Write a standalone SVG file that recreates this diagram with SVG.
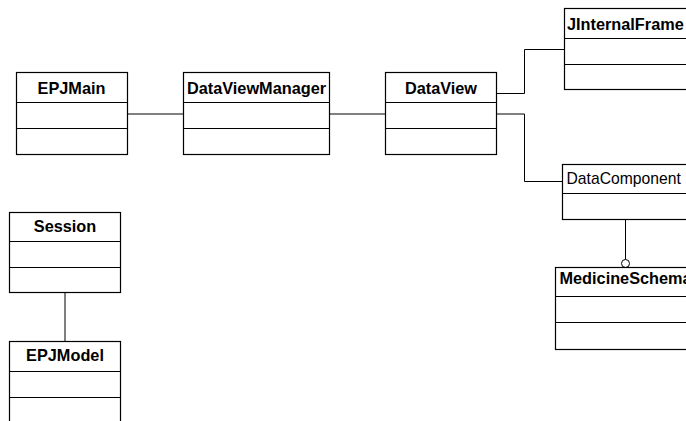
<svg xmlns="http://www.w3.org/2000/svg" width="686" height="421" viewBox="0 0 686 421">
  <style>
    .box { fill: #fff; stroke: #000; stroke-width: 1.2; }
    .div { stroke: #000; stroke-width: 1.2; }
    .conn { fill: none; stroke: #000; stroke-width: 1; }
    .title { font-family: "Liberation Sans", Arial, sans-serif; font-size: 16.3px; font-weight: bold; fill: #000; }
    .plain { font-family: "Liberation Sans", Arial, sans-serif; font-size: 15.7px; fill: #000; }
  </style>
  <rect width="686" height="421" fill="#fff"/>

  <g id="connectors">
    <line class="conn" x1="127.5" y1="114" x2="183.5" y2="114"/>
    <line class="conn" x1="329.5" y1="114" x2="385.5" y2="114"/>
    <polyline class="conn" points="496.5,93.5 524.5,93.5 524.5,49.5 564.5,49.5"/>
    <polyline class="conn" points="496.5,114 524.5,114 524.5,181.5 562.5,181.5"/>
    <line class="conn" x1="65" y1="292.5" x2="65" y2="341.5"/>
    <line class="conn" x1="625.5" y1="219.5" x2="625.5" y2="259.5"/>
    <circle class="conn" cx="625.5" cy="263.5" r="4" fill="#fff"/>
  </g>

  <g id="EPJMain">
    <rect class="box" x="16.5" y="72.5" width="111" height="82"/>
    <line class="div" x1="16.5" y1="102.5" x2="127.5" y2="102.5"/>
    <line class="div" x1="16.5" y1="128.5" x2="127.5" y2="128.5"/>
    <text class="title" x="71.5" y="94" text-anchor="middle">EPJMain</text>
  </g>

  <g id="DataViewManager">
    <rect class="box" x="183.5" y="72.5" width="146" height="82"/>
    <line class="div" x1="183.5" y1="102.5" x2="329.5" y2="102.5"/>
    <line class="div" x1="183.5" y1="128.5" x2="329.5" y2="128.5"/>
    <text class="title" x="256.5" y="94" text-anchor="middle">DataViewManager</text>
  </g>

  <g id="DataView">
    <rect class="box" x="385.5" y="72.5" width="111" height="82"/>
    <line class="div" x1="385.5" y1="102.5" x2="496.5" y2="102.5"/>
    <line class="div" x1="385.5" y1="128.5" x2="496.5" y2="128.5"/>
    <text class="title" x="441" y="94" text-anchor="middle">DataView</text>
  </g>

  <g id="JInternalFrame">
    <rect class="box" x="564.5" y="8.5" width="140" height="81"/>
    <line class="div" x1="564.5" y1="38.5" x2="704.5" y2="38.5"/>
    <line class="div" x1="564.5" y1="64.5" x2="704.5" y2="64.5"/>
    <text class="title" x="567" y="29.5">JInternalFrame</text>
  </g>

  <g id="DataComponent">
    <rect class="box" x="562.5" y="164.5" width="140" height="55"/>
    <line class="div" x1="562.5" y1="193.5" x2="702.5" y2="193.5"/>
    <text class="plain" x="566.5" y="183.5">DataComponent</text>
  </g>

  <g id="MedicineSchema">
    <rect class="box" x="555.5" y="267.5" width="150" height="82"/>
    <line class="div" x1="555.5" y1="296.5" x2="705.5" y2="296.5"/>
    <line class="div" x1="555.5" y1="322.5" x2="705.5" y2="322.5"/>
    <text class="title" x="559.5" y="284">MedicineSchema</text>
  </g>

  <g id="Session">
    <rect class="box" x="9.5" y="212.5" width="111" height="80"/>
    <line class="div" x1="9.5" y1="241.5" x2="120.5" y2="241.5"/>
    <line class="div" x1="9.5" y1="267.5" x2="120.5" y2="267.5"/>
    <text class="title" x="65" y="231.5" text-anchor="middle">Session</text>
  </g>

  <g id="EPJModel">
    <rect class="box" x="9.5" y="341.5" width="111" height="90"/>
    <line class="div" x1="9.5" y1="371.5" x2="120.5" y2="371.5"/>
    <line class="div" x1="9.5" y1="397.5" x2="120.5" y2="397.5"/>
    <text class="title" x="65" y="361" text-anchor="middle">EPJModel</text>
  </g>
</svg>
